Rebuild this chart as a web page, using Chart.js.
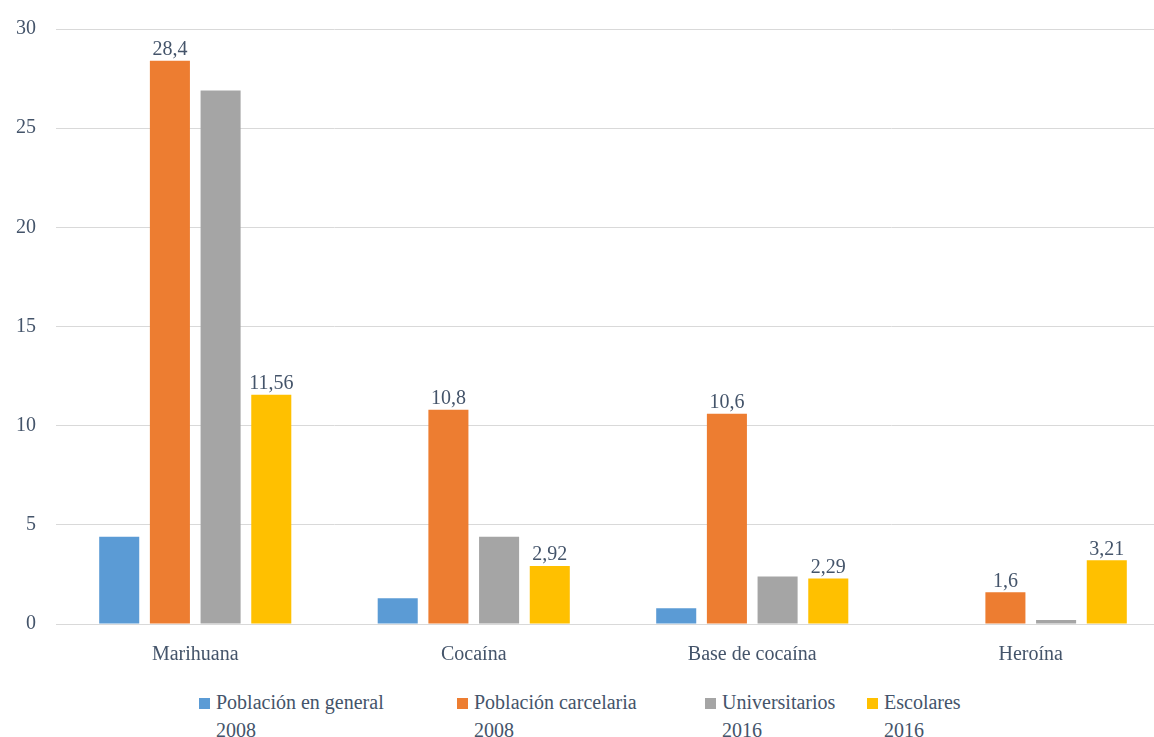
<!DOCTYPE html>
<html>
<head>
<meta charset="utf-8">
<script src="https://cdn.jsdelivr.net/npm/chart.js@4"></script>
<style>
html, body { margin: 0; padding: 0; background: #fff; overflow: hidden; }
#wrap { position: relative; width: 1154px; height: 737px; overflow: hidden; }
#box { position: absolute; left: -4px; top: -3px; width: 1174px; height: 681px; }
#legend { position: absolute; left: 0; top: 688px; width: 1154px; height: 50px;
  font-family: "Times New Roman", "Liberation Serif", Tinos, "DejaVu Serif", serif; font-size: 20px; color: #44546A; }
.item { position: absolute; top: 0; line-height: 28px; }
.item i { position: absolute; left: 0; top: 10px; width: 11px; height: 11px; }
.item span { display: block; margin-left: 17px; }
</style>
</head>
<body>
<div id="wrap">
  <div id="box"><canvas id="barChart"></canvas></div>
  <div id="legend"></div>
</div>
<script>
// categories and series
var drogas = ["Marihuana", "Cocaína", "Base de cocaína", "Heroína"];
var series = [
  ["Población en general", "2008"],
  ["Población carcelaria", "2008"],
  ["Universitarios", "2016"],
  ["Escolares", "2016"]
];
var general2008 = [4.4, 1.3, 0.8, null];
var carcelaria2008 = [28.4, 10.8, 10.6, 1.6];
var universitarios2016 = [26.9, 4.4, 2.4, 0.2];
var escolares2016 = [11.56, 2.92, 2.29, 3.21];
var yTicks = [0, 5, 10, 15, 20, 25, 30];

var colores = ["#5B9BD5", "#ED7D31", "#A5A5A5", "#FFC000"];
var conEtiqueta = [false, true, false, true];
var legendLeft = [199, 457, 705, 867];

var textColor = "#44546A";
var family = "'Times New Roman', 'Liberation Serif', Tinos, 'DejaVu Serif', serif";
var font = { family: family, size: 20 };

// value labels above the orange and yellow bars
var valueLabels = {
  id: "valueLabels",
  afterDatasetsDraw: function (chart) {
    var ctx = chart.ctx;
    ctx.save();
    ctx.font = "20px " + family;
    ctx.fillStyle = textColor;
    ctx.textAlign = "center";
    ctx.textBaseline = "bottom";
    chart.data.datasets.forEach(function (ds, i) {
      if (!conEtiqueta[i]) return;
      chart.getDatasetMeta(i).data.forEach(function (bar, j) {
        var v = ds.data[j];
        if (v == null) return;
        ctx.fillText(String(v).replace(".", ","), bar.x, bar.y - 1);
      });
    });
    ctx.restore();
  }
};

var data = [general2008, carcelaria2008, universitarios2016, escolares2016];

new Chart(document.getElementById("barChart"), {
  type: "bar",
  data: {
    labels: drogas,
    datasets: data.map(function (d, i) {
      return {
        label: series[i].join(" "),
        data: d,
        backgroundColor: colores[i],
        categoryPercentage: 0.728,
        barPercentage: 0.79
      };
    })
  },
  options: {
    responsive: true,
    maintainAspectRatio: false,
    animation: false,
    layout: { padding: { top: 10, left: 0, right: 0, bottom: 0 } },
    plugins: { legend: { display: false }, tooltip: { enabled: false } },
    scales: {
      x: {
        grid: { display: false },
        border: { color: "#D9D9D9", width: 1 },
        ticks: { color: textColor, font: font, padding: 11 }
      },
      y: {
        min: 0,
        max: 30,
        afterBuildTicks: function (axis) {
          axis.ticks = yTicks.map(function (v) { return { value: v }; });
        },
        grid: { color: "#D9D9D9", drawTicks: false },
        border: { display: false },
        ticks: { color: textColor, font: font, padding: 20 }
      }
    }
  },
  plugins: [valueLabels]
});

// legend below the chart, two lines per entry
var legend = document.getElementById("legend");
series.forEach(function (s, i) {
  var el = document.createElement("div");
  el.className = "item";
  el.style.left = legendLeft[i] + "px";
  var sw = document.createElement("i");
  sw.style.background = colores[i];
  el.appendChild(sw);
  s.forEach(function (line) {
    var t = document.createElement("span");
    t.textContent = line;
    el.appendChild(t);
  });
  legend.appendChild(el);
});
</script>
</body>
</html>
